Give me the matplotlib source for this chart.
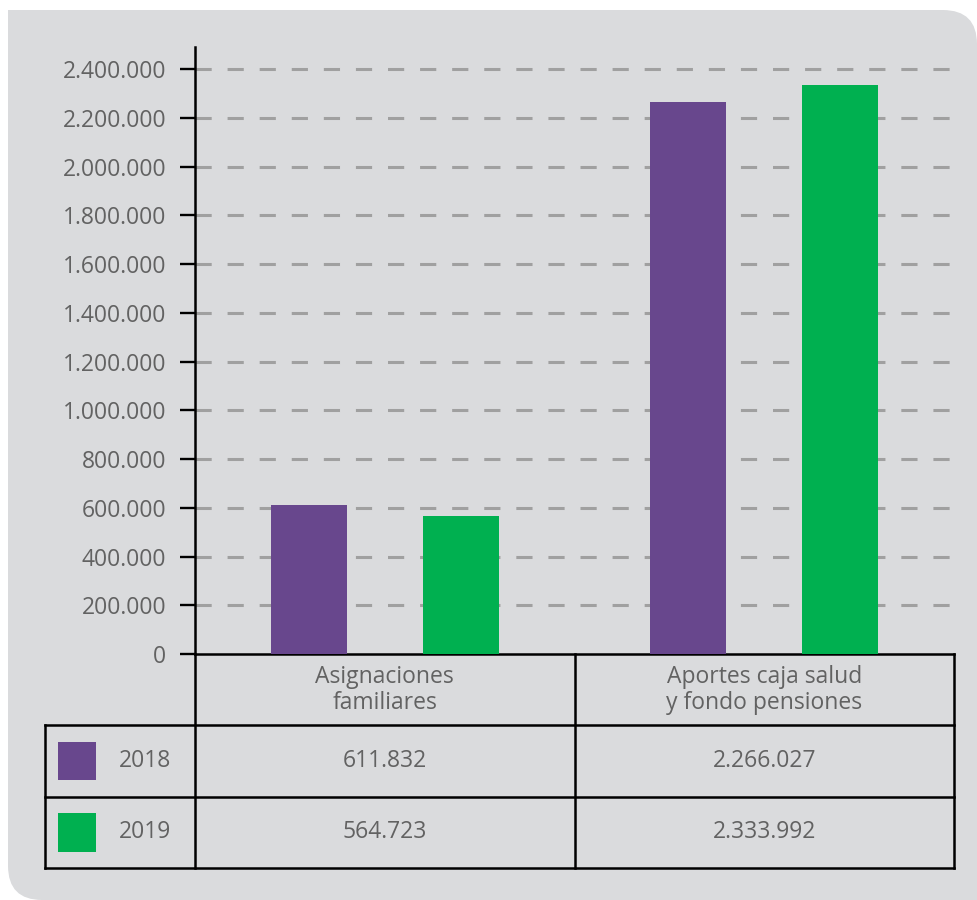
import matplotlib
matplotlib.use('Agg')
import matplotlib.pyplot as plt
from matplotlib.patches import FancyBboxPatch, Rectangle

# datos
categorias = ['Asignaciones\nfamiliares', 'Aportes caja salud\ny fondo pensiones']
anios = ['2018', '2019']
valores_2018 = [611832, 2266027]
valores_2019 = [564723, 2333992]
colores = ['#68478d', '#00b050']
ticks_y = list(range(0, 2400001, 200000))

W, H = 977, 900
plt.rcParams['font.family'] = ['Open Sans', 'DejaVu Sans']
txt_color = '#626262'
fondo = '#dadbdd'
fs = 16.5

fig = plt.figure(figsize=(W / 100, H / 100), dpi=100)
fig.patch.set_facecolor('white')

# fondo gris con esquinas redondeadas (arriba-der y abajo-izq)
fig.add_artist(FancyBboxPatch((8 / W, 0), (W - 8) / W, 1 - 10 / H,
                              boxstyle='round,pad=0,rounding_size=0.035',
                              transform=fig.transFigure, fc=fondo, ec='none',
                              mutation_aspect=W / H, zorder=0))
fig.add_artist(Rectangle((8 / W, 0.5), 0.5, 0.5 - 10 / H, transform=fig.transFigure,
                         fc=fondo, ec='none', zorder=0))
fig.add_artist(Rectangle((0.5, 0), 0.5, 0.5, transform=fig.transFigure,
                         fc=fondo, ec='none', zorder=0))

def fx(x):
    return x / W

def fy(y):
    return 1 - y / H

# grafico de barras
ax = fig.add_axes([fx(195), fy(654), fx(954) - fx(195), fy(47) - fy(654)])
ax.set_facecolor('none')
x = range(len(categorias))
ax.bar([i - 0.2 for i in x], valores_2018, width=0.2, color=colores[0], zorder=3)
ax.bar([i + 0.2 for i in x], valores_2019, width=0.2, color=colores[1], zorder=3)
ax.set_xlim(-0.5, 1.5)
ax.set_ylim(0, 2400000 * 607 / 584.7)
ax.set_xticks([])
ax.set_yticks(ticks_y)
ax.set_yticklabels([f'{t:,}'.replace(',', '.') for t in ticks_y], fontsize=fs, color=txt_color)
ax.tick_params(axis='y', length=10.8, width=1.7, pad=10, color='black')
for t in ticks_y[1:]:
    ax.axhline(t, color='#a0a0a0', lw=2.2, ls=(0, (5.3, 5.2)), zorder=1)
for s in ['top', 'right']:
    ax.spines[s].set_visible(False)
ax.spines['left'].set_linewidth(1.8)
ax.spines['bottom'].set_linewidth(1.8)

# tabla debajo
unit = (954 - 195) / 2
izq = -0.5 - 150 / unit
tax = fig.add_axes([fx(45), fy(868), fx(954) - fx(45), fy(654) - fy(868)])
tax.set_xlim(izq, 1.5)
tax.set_ylim(3, 0)
tax.axis('off')
lw = 1.8
for yy in [1, 2, 3]:
    tax.plot([izq, 1.5], [yy, yy], color='black', lw=lw, clip_on=False, solid_capstyle='projecting')
tax.plot([izq, izq], [1, 3], color='black', lw=lw, clip_on=False)
for xx in [-0.5, 0.5, 1.5]:
    tax.plot([xx, xx], [0, 3], color='black', lw=lw, clip_on=False)

for i, cat in enumerate(categorias):
    tax.text(i, 0.5, cat, ha='center', va='center', fontsize=fs, color=txt_color, linespacing=1.1)
    for j, vals in enumerate([valores_2018, valores_2019]):
        tax.text(i, j + 1.5, f'{vals[i]:,}'.replace(',', '.'), ha='center', va='center',
                 fontsize=fs, color=txt_color)

for j, anio in enumerate(anios):
    tax.add_patch(Rectangle((izq + 13 / unit, j + 1.5 - 0.27), 38 / unit, 0.54,
                            fc=colores[j], ec='none'))
    tax.text(izq + 100 / unit, j + 1.5, anio, ha='center', va='center', fontsize=fs, color=txt_color)

fig.savefig('out.png', dpi=100)
